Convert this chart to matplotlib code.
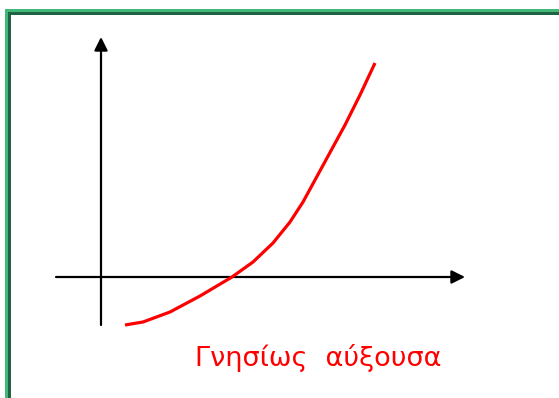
import matplotlib

matplotlib.use("Agg")

import matplotlib.pyplot as plt  # noqa: E402
from matplotlib.patches import Rectangle  # noqa: E402

# curve, origin at the axes crossing (units = px)
curve_x = [24, 42, 69, 99, 131, 152, 172, 189, 202, 214, 244, 259, 274]
curve_y = [-48, -45, -35, -19, 0, 15, 34, 55, 75, 97, 152, 182, 214]
label = "Γνησίως  αύξουσα"

W, H = 559, 398
fig = plt.figure(figsize=(W / 100, H / 100), dpi=100)
fig.patch.set_facecolor("white")

# ---- frame (light + dark green bands, top and left) ----------------------
bg = fig.add_axes([0, 0, 1, 1], zorder=0)
bg.set_xlim(0, W); bg.set_ylim(H, 0); bg.axis("off")
for x0, y0, c in [(5, 9, "#42b878"), (8, 12, "#1f6342")]:
    bg.add_patch(Rectangle((x0, y0), W, 3, color=c, lw=0))
    bg.add_patch(Rectangle((x0, y0), 3, H, color=c, lw=0))

# ---- main sketch ----------------------------------------------------------
ax = fig.add_axes([0, 0, 1, 1], zorder=1)
ax.patch.set_alpha(0)
ax.set_xlim(-101, W - 101); ax.set_ylim(-(H - 277), 277)
ax.axis("off")

arrow = dict(arrowstyle="-|>", color="black", lw=1.6, mutation_scale=20,
             shrinkA=0, shrinkB=0)
ax.annotate("", xy=(364, 0), xytext=(-45, 0), arrowprops=arrow)
ax.annotate("", xy=(0, 240), xytext=(0, -48), arrowprops=arrow)

ax.plot(curve_x, curve_y, color="red", lw=2.3, solid_capstyle="butt",
        solid_joinstyle="round", zorder=3)

ax.text(217, -81, label, color="red", fontsize=19.5, ha="center",
        va="center", family=["Comic Neue", "DejaVu Sans"])

fig.savefig("out.png", dpi=100, facecolor="white")
